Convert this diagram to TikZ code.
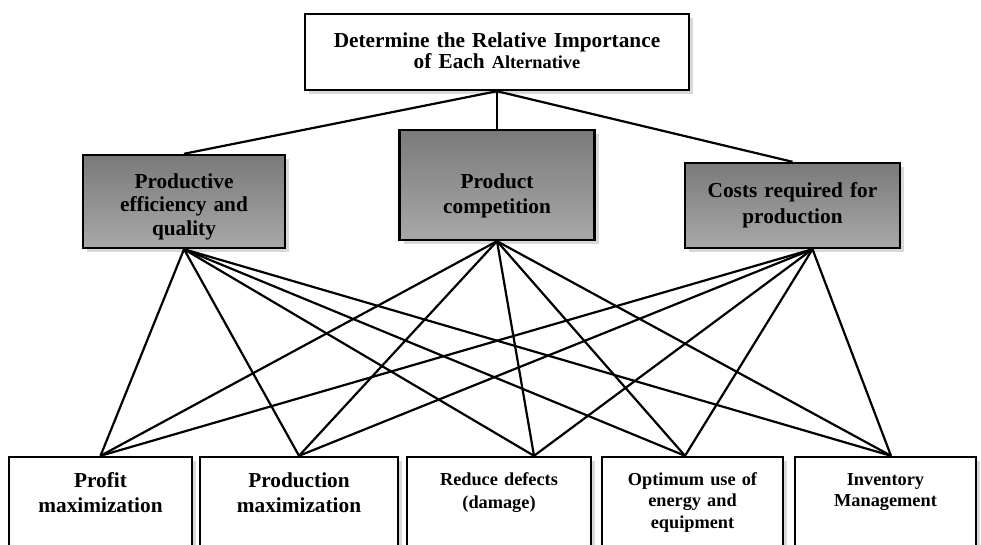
\documentclass[tikz,border=0pt]{standalone}
\usepackage{fontspec}
\setmainfont{Liberation Serif}
\usetikzlibrary{shadows,calc}

\definecolor{critTop}{RGB}{122,122,122}
\definecolor{critBot}{RGB}{168,168,168}

\tikzset{
  box/.style={draw=black, line width=2.4pt, fill=white, inner sep=0pt, align=center,
    anchor=base, drop shadow={shadow xshift=4pt, shadow yshift=-4pt, opacity=0.3}},
  crit/.style={box, top color=critTop, bottom color=critBot},
  bigtext/.style={font=\bfseries\fontsize{21.3}{#1}\selectfont},
  smalltext/.style={font=\bfseries\fontsize{18.3}{#1}\selectfont},
  link/.style={line width=2.2pt}
}

\begin{document}
\begin{tikzpicture}[x=1pt, y=-1pt]
\useasboundingbox (0,0) rectangle (981,544);

% goal
\node[box, bigtext=21, text width=384pt, text height=33pt, text depth=43pt] (goal) at (497,47)
  {Determine the Relative Importance\\of Each {\fontsize{18.3}{21}\selectfont Alternative}};

% criteria
\node[crit, bigtext=23.5, text width=202pt, text height=33pt, text depth=60pt] (eff) at (184,188)
  {Productive\\efficiency and\\quality};
\node[crit, bigtext=25, text width=195pt, text height=58pt, text depth=52pt] (comp) at (497,188)
  {Product\\competition};
\node[crit, bigtext=26, text width=215pt, text height=34pt, text depth=51pt] (cost) at (792.5,197)
  {Costs required for\\production};

% alternatives
\node[box, bigtext=25, text width=183pt, text height=30pt, text depth=63pt] (profit) at (100.5,487)
  {Profit\\maximization};
\node[box, bigtext=25, text width=198pt, text height=30pt, text depth=63pt] (prod) at (299,487)
  {Production\\maximization};
\node[box, smalltext=23, text width=184pt, text height=28pt, text depth=65pt] (defect) at (499,485)
  {Reduce defects\\(damage)};
\node[box, smalltext=21.5, text width=181pt, text height=28pt, text depth=65pt] (energy) at (692.5,485)
  {Optimum use of\\energy and\\equipment};
\node[box, smalltext=21, text width=181pt, text height=28pt, text depth=65pt] (stock) at (885.5,485)
  {Inventory\\Management};

% goal to criteria
\draw[link] (goal.south) -- (eff.north);
\draw[link] (goal.south) -- (comp.north);
\draw[link] (goal.south) -- (cost.north);

% criteria to alternatives
\foreach \m/\dx in {eff/0, comp/0, cost/20}
  \foreach \b/\bx in {profit/0, prod/0, defect/35, energy/-7.5, stock/5.5}
    \draw[link] ($(\m.south)+(\dx,0)$) -- ($(\b.north)+(\bx,0)$);
\end{tikzpicture}
\end{document}
